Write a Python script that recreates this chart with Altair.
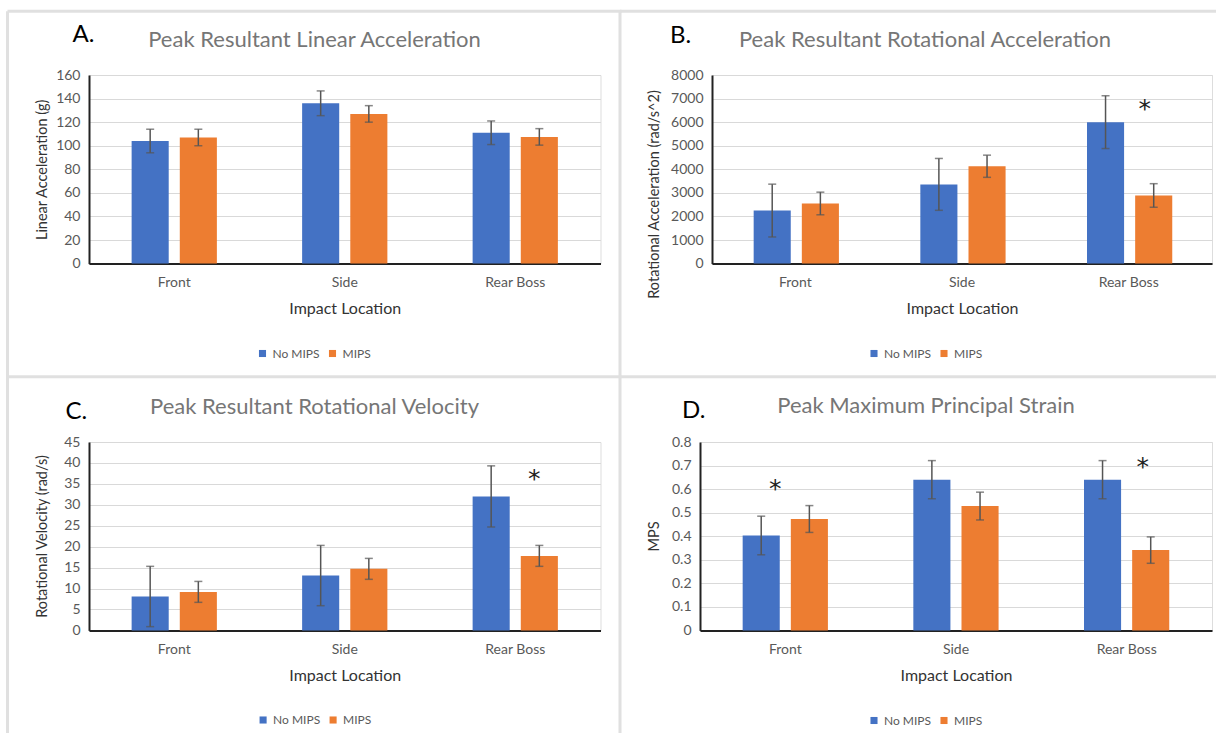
import altair as alt
import pandas as pd

locations = ["Front", "Side", "Rear Boss"]
series = ["No MIPS", "MIPS"]
colors = ["#4472C4", "#ED7D31"]

# Panel A: Peak Resultant Linear Acceleration (g)
a_nomips = [104, 136, 111]
a_nomips_err = [10, 10.5, 10]
a_mips = [107, 127, 107.5]
a_mips_err = [7, 7, 7]

# Panel B: Peak Resultant Rotational Acceleration (rad/s^2)
b_nomips = [2250, 3360, 6000]
b_nomips_err = [1120, 1100, 1120]
b_mips = [2550, 4130, 2890]
b_mips_err = [480, 470, 500]

# Panel C: Peak Resultant Rotational Velocity (rad/s)
c_nomips = [8.1, 13.1, 32.0]
c_nomips_err = [7.2, 7.2, 7.3]
c_mips = [9.2, 14.7, 17.8]
c_mips_err = [2.5, 2.5, 2.5]

# Panel D: Peak Maximum Principal Strain
d_nomips = [0.403, 0.64, 0.64]
d_nomips_err = [0.082, 0.081, 0.081]
d_mips = [0.473, 0.528, 0.341]
d_mips_err = [0.057, 0.059, 0.056]

# significance markers: (location, value)
b_stars = [("Rear Boss", 6630)]
c_stars = [("Rear Boss", 36.6)]
d_stars = [("Front", 0.61), ("Rear Boss", 0.704)]

FONT = "Lato"
GRAY = "#595959"
FRAME = "#e0e0e0"


def build_df(nm, nme, m, me):
    rows = []
    for i, loc in enumerate(locations):
        rows.append({"loc": loc, "s": "No MIPS", "v": nm[i], "lo": nm[i] - nme[i], "hi": nm[i] + nme[i]})
        rows.append({"loc": loc, "s": "MIPS", "v": m[i], "lo": m[i] - me[i], "hi": m[i] + me[i]})
    return pd.DataFrame(rows)


def panel(letter, title, ytitle, ymax, ystep, df, stars, g):
    w, h = g["w"], g["h"]
    xaxis = alt.Axis(title="Impact Location", labelAngle=0, ticks=False, tickSize=0,
                     grid=False, domainColor="#222222", domainWidth=2,
                     labelFontSize=14, labelColor=GRAY, labelPadding=12,
                     titleFontSize=16, titleColor="#333333", titleFontWeight="normal",
                     titleY=45, titleBaseline="middle", labelFont=FONT, titleFont=FONT)
    xenc = alt.X("loc:N", sort=locations,
                 scale=alt.Scale(paddingInner=0.5, paddingOuter=0.25), axis=xaxis)
    xo = alt.XOffset("s:N", sort=series, scale=alt.Scale(paddingInner=0.23, paddingOuter=0))
    vals = []
    k = 0
    while k * ystep <= ymax + 1e-9:
        vals.append(round(k * ystep, 6))
        k += 1
    yscale = alt.Scale(domain=[0, ymax], nice=False, zero=True)
    yaxis = alt.Axis(title=ytitle, values=vals, tickCount=len(vals), format="~r",
                     labelOverlap=False, ticks=False, tickSize=0,
                     grid=True, gridColor="#d9d9d9", gridWidth=1,
                     domainColor="#222222", domainWidth=2,
                     labelFontSize=14, labelColor=GRAY, labelPadding=9,
                     titleFontSize=14.5, titleColor="#333333", titleFontWeight="normal",
                     titleX=g["ytx"], titleY=g["yty"], titleBaseline="middle",
                     labelFont=FONT, titleFont=FONT)
    base = alt.Chart(df)
    bars = base.mark_bar().encode(
        x=xenc, xOffset=xo, y=alt.Y("v:Q", scale=yscale, axis=yaxis),
        color=alt.Color("s:N", sort=series, scale=alt.Scale(domain=series, range=colors),
                        legend=alt.Legend(orient="none", legendX=g["lx"], legendY=g["ly"],
                                          direction="horizontal", title=None, symbolType="square",
                                          symbolSize=50, symbolStrokeWidth=0, labelFontSize=12,
                                          labelColor=GRAY, labelFont=FONT, columnPadding=6,
                                          labelOffset=4, padding=0)))
    err = base.mark_rule(color="#555555", strokeWidth=1.5).encode(
        x=xenc, xOffset=xo,
        y=alt.Y("lo:Q", scale=yscale, axis=yaxis), y2="hi:Q")
    cap_hi = base.mark_tick(color="#555555", size=8, thickness=1.5).encode(
        x=xenc, xOffset=xo, y=alt.Y("hi:Q", scale=yscale, axis=yaxis))
    cap_lo = base.mark_tick(color="#555555", size=8, thickness=1.5).encode(
        x=xenc, xOffset=xo, y=alt.Y("lo:Q", scale=yscale, axis=yaxis))
    layers = [bars, err, cap_hi, cap_lo]
    if stars:
        sdf = pd.DataFrame({"loc": [s[0] for s in stars], "s": ["MIPS"] * len(stars),
                            "v": [s[1] for s in stars], "t": ["*"] * len(stars)})
        for i in range(len(sdf)):
            row = sdf.iloc[[i]]
            dx = g["star_dx"][i]
            layers.append(alt.Chart(row).mark_text(fontSize=25, font="DejaVu Sans", color="#222222",
                                                   baseline="middle", dx=dx, dy=2).encode(
                x=xenc, xOffset=xo,
                y=alt.Y("v:Q", scale=yscale, axis=yaxis), text="t:N"))
    one = pd.DataFrame({"t": [0]})
    layers.append(alt.Chart(one).mark_text(text=letter, fontSize=24, font=FONT, color="#000000",
                                           align="left", baseline="alphabetic").encode(
        x=alt.value(g["lxp"]), y=alt.value(g["lyp"])))
    layers.append(alt.Chart(one).mark_text(text=title, fontSize=22, font=FONT, color="#767676",
                                           align="center", baseline="alphabetic").encode(
        x=alt.value(g["tx"]), y=alt.value(g["ty"])))
    # panel frame lines (top and left)
    layers.append(alt.Chart(one).mark_rule(color=FRAME, strokeWidth=3).encode(
        x=alt.value(g["fl"]), x2=alt.value(g["fr"]), y=alt.value(g["ft"])))
    layers.append(alt.Chart(one).mark_rule(color=FRAME, strokeWidth=3).encode(
        x=alt.value(g["fl"]), y=alt.value(g["ft"]), y2=alt.value(g["fb"])))
    return alt.layer(*layers).properties(width=w, height=h)


O1 = 89.5
gA = dict(w=601 - O1, h=188.6, ytx=-46.5, yty=94.3, lx=257 - O1, ly=272.5,
          lxp=73 - O1, lyp=-33, tx=315 - O1, ty=-28,
          fl=8 - O1, fr=532.5, ft=-63.7, fb=302.6, star_dx=[])
gB = dict(w=500, h=188.6, ytx=-58, yty=119, lx=156, ly=272.5,
          lxp=-42, lyp=-32.4, tx=213, ty=-28,
          fl=-92, fr=504, ft=-63.7, fb=302.6, star_dx=[-9])
gC = dict(w=601 - O1, h=188.4, ytx=-46.5, yty=94, lx=257.6 - O1, ly=272,
          lxp=66 - O1, lyp=-23.5, tx=315 - O1, ty=-27.6,
          fl=8 - O1, fr=532.5, ft=-65.3, fb=291, star_dx=[-5])
gD = dict(w=512, h=188.4, ytx=-46, yty=94, lx=168, ly=272.5,
          lxp=-18, lyp=-23.6, tx=226, ty=-28.6,
          fl=-80, fr=516, ft=-65.3, fb=291, star_dx=[-34, -8])

pA = panel("A.", "Peak Resultant Linear Acceleration", "Linear Acceleration (g)", 160, 20,
           build_df(a_nomips, a_nomips_err, a_mips, a_mips_err), [], gA)
pB = panel("B.", "Peak Resultant Rotational Acceleration", "Rotational Acceleration (rad/s^2)", 8000, 1000,
           build_df(b_nomips, b_nomips_err, b_mips, b_mips_err), b_stars, gB)
pC = panel("C.", "Peak Resultant Rotational Velocity", "Rotational Velocity (rad/s)", 45, 5,
           build_df(c_nomips, c_nomips_err, c_mips, c_mips_err), c_stars, gC)
pD = panel("D.", "Peak Maximum Principal Strain", "MPS", 0.8, 0.1,
           build_df(d_nomips, d_nomips_err, d_mips, d_mips_err), d_stars, gD)

chart = alt.concat(pA, pB, pC, pD, columns=2, spacing=-6, align="none").resolve_scale(
    color="independent").properties(
    padding={"left": 5, "top": 9, "right": 0, "bottom": 0},
    background="white",
).configure_view(stroke=None, strokeWidth=0).configure(font=FONT)

chart.save("out.html", embed_options={"renderer": "svg", "actions": False})
